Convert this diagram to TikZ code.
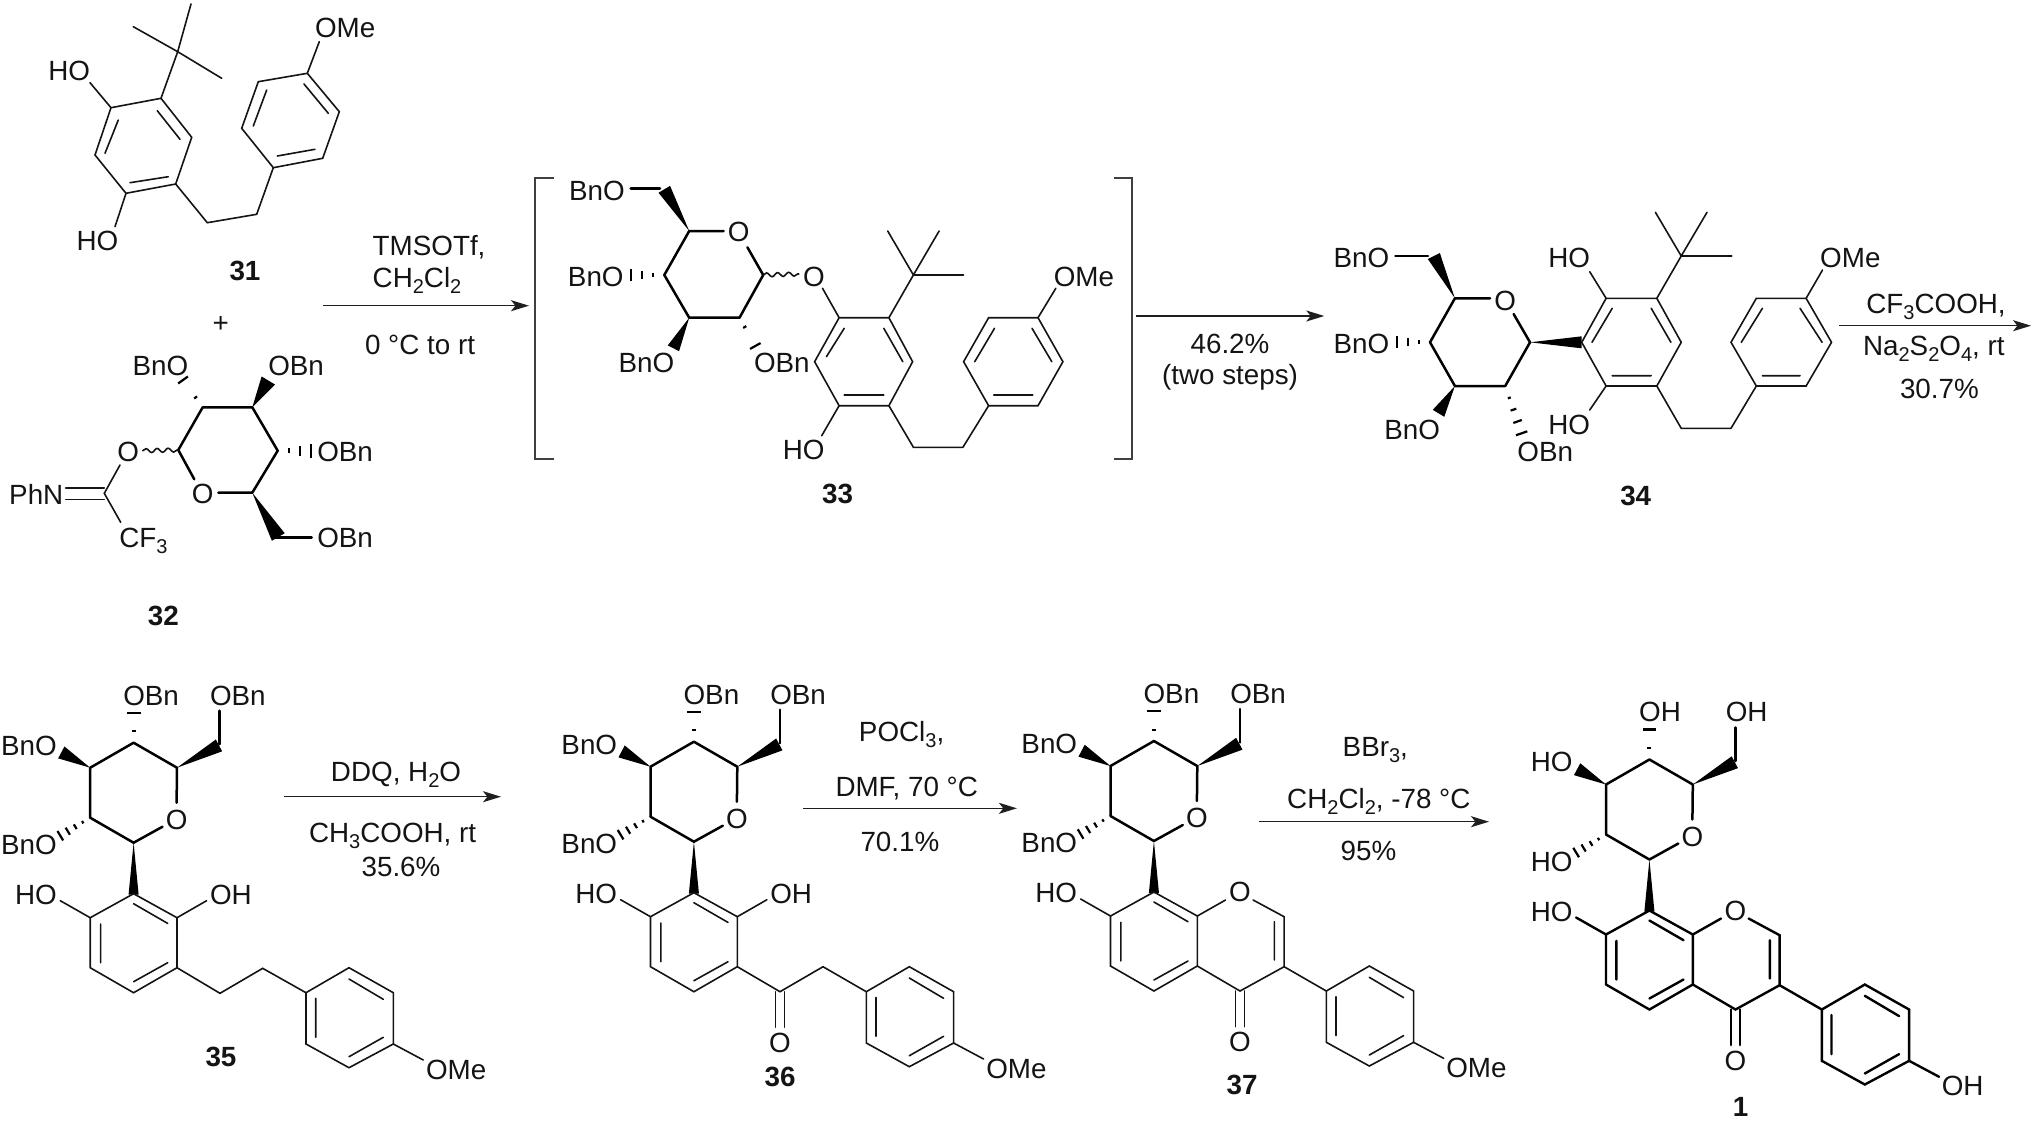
\documentclass[tikz,border=0pt]{standalone}
\usepackage{fontspec}
\setmainfont{Liberation Sans}
\usetikzlibrary{calc,arrows.meta,decorations.pathmorphing}
\newcounter{nd}
\newcommand\chemsize{\fontsize{13.9}{16}\selectfont}
\newcommand\subs[1]{\raisebox{-0.22em}{\fontsize{10}{10}\selectfont #1}}
\newcommand\Tl[2]{\stepcounter{nd}\node[atomtxt,anchor=base west] (t\arabic{nd}) at (#1) {#2};}
\newcommand\Tr[2]{\stepcounter{nd}\node[atomtxt,anchor=base east] (t\arabic{nd}) at (#1) {#2};}
\newcommand\Tc[2]{\stepcounter{nd}\node[atomtxt,anchor=base] (t\arabic{nd}) at (#1) {#2};}
\newcommand\Tb[2]{\stepcounter{nd}\node[atomtxt,anchor=base,font=\chemsize\bfseries] (t\arabic{nd}) at (#1) {#2};}
% one hash stroke: from, to, position, half width (px)
\newcommand\hstroke[4]{\pgfmathsetmacro\hW{#4*0.5}\draw[hs] ($(#1)!#3!(#2)!\hW pt!90:(#1)$) -- ($(#1)!#3!(#2)!\hW pt!-90:(#1)$);}
\newcommand\hashb[4]{\foreach \ii in {1,...,#3}{\pgfmathsetmacro\hT{\ii/#3}\pgfmathsetmacro\hH{#4*\ii/#3}\hstroke{#1}{#2}{\hT}{\hH}}}
\newcommand\wedgeb[3]{\pgfmathsetmacro\wW{#3*0.6}\fill[line join=round] ($(#1)$) -- ($(#2)!\wW pt!90:(#1)$) -- ($(#2)!\wW pt!-90:(#1)$) -- cycle;}
% sugar and phenol ring shared by 35, 36, 37, 1
\newcommand\glyco[2]{%
 \draw[sg] (-43.4,75) -- (-43.4,25) -- (0,0) -- (43.4,25) -- (43,60);
 \draw[sg] (-43.4,75) -- (0,100) -- (28.9,84);
 \draw[sg] (86,1.5) -- (86,-32);
 \Tc{43,86.7}{O}
 \wedgeb{43.4,25}{85.4,2.7}{5.6}
 \wedgeb{-43.4,25}{-72.3,9.7}{5.6}
 \wedgeb{0,100}{0,152}{4.2}
 \hstroke{0,0}{0,-30}{0.38}{2}
 \hstroke{0,0}{0,-30}{1}{6.9}
 \hashb{-43.4,75}{-73.3,93}{4}{5.5}
 \Tl{-10.3,-37.7}{#1}
 \Tl{76.4,-37.7}{#1}
 \Tr{-76.8,12.3}{#2}
 \Tr{-76.8,111.7}{#2}
 \Tr{-76.8,161.7}{HO}
 \draw[ar] (0,151) -- (-43.4,175) -- (-43.4,225) -- (0,250) -- (43.4,225) -- (43.4,175) -- cycle;
 \draw[ar] (0,161) -- (34.1,180.7) (-33,181.3) -- (-33,220) (0,239) -- (34.1,220);
 \draw[ar] (-43.4,175) -- (-73.3,158);
}
% para-substituted ring; #1 is the label
\newcommand\anis[1]{%
 \draw[ar] (172.4,250) -- (215.4,225) -- (259.7,250) -- (259.7,301.3) -- (215.4,325) -- (172.4,301.3) -- cycle;
 \draw[ar] (215.4,236.3) -- (249.7,256.6) (249.7,294.6) -- (215.4,314) (182.1,255.6) -- (182.1,294.6);
 \draw[ar] (259.7,301.3) -- (289.7,317.3);
 \Tl{292.4,336.3}{#1}
}
\newcommand\carbonyl{%
 \draw[ar] (81.5,250) -- (81.5,285.6) (90.7,250) -- (90.7,285.6);
 \Tc{86.1,310.7}{O}
}
\newcommand\chrom{%
 \draw[ar] (43.4,175) -- (71.6,159) (99.2,159) -- (130.2,175.7) -- (130.2,225.7) -- (86.1,250) -- (43.4,225);
 \draw[ar] (120.5,180.7) -- (120.5,219) (130.2,225.7) -- (172.4,250);
 \Tc{86.1,160.7}{O}
 \carbonyl
}
\begin{document}
\begin{tikzpicture}[x=0.5pt,y=-0.5pt,
 atomtxt/.style={inner sep=0pt,outer sep=0pt,font=\chemsize,text=black!92},
 ar/.style={line width=0.8pt,line join=miter,line cap=round,black!92},
 sg/.style={line width=1.25pt,line join=round,line cap=round,black},
 hs/.style={line width=1.1pt,black},
 rxn/.style={line width=0.75pt,black!88,-{Stealth[length=9pt,width=5.5pt,inset=2.2pt]}},
 brk/.style={line width=0.9pt,black!75}]
\useasboundingbox (0,0) rectangle (2032,1120);

% ---------- 31
\draw[ar] (161,98.3) -- (191.7,137.3) -- (175.7,184) -- (126,193.3) -- (95,155) -- (111,107.7) -- cycle;
\draw[ar] (157.3,110.7) -- (180,139.3) (118.3,120) -- (105,153.3) (168.3,176.7) -- (130,182.7);
\draw[ar] (111,107.7) -- (90,82.7) (126,193.3) -- (115,226.7);
\draw[ar] (161,98.3) -- (177.7,51.7) (133.3,26.7) -- (177.7,51.7) (191,4) -- (177.7,51.7) (221.7,78.3) -- (177.7,51.7);
\draw[ar] (175.7,184) -- (207.3,222.7) -- (256.7,214.3) -- (273.3,167.7);
\draw[ar] (273.3,167.7) -- (241.7,128.3) -- (258.3,81.7) -- (307.3,73.3) -- (339.3,111.7) -- (322.7,158.3) -- cycle;
\draw[ar] (277.3,156) -- (315,149.3) (253.3,126) -- (266.7,90) (304,84) -- (328.3,113.3);
\draw[ar] (307.3,73.3) -- (319.3,41.7);
\Tr{90,80.7}{HO}
\Tr{118.3,250}{HO}
\Tl{315,37.3}{OMe}
\Tb{245,280.7}{31}

% ---------- plus and 32
\Tc{220.7,332}{+}
\draw[sg] (178.3,450) -- (202.7,407.3) -- (252.3,407.3) -- (277.7,450.7) -- (252.3,492.7) -- (218.3,492.7);
\draw[sg] (178.3,450) -- (194.3,479.3);
\Tc{202.7,503.3}{O}
\hstroke{202.7,407.3}{183,380}{0.36}{1.8}
\hstroke{202.7,407.3}{183,380}{1}{6}
\Tr{188.3,375}{BnO}
\wedgeb{252.3,407.3}{268.3,380.5}{6.5}
\Tl{268.3,375}{OBn}
\hstroke{277.7,450.7}{310.7,450.7}{0.35}{2.5}
\hstroke{277.7,450.7}{310.7,450.7}{0.67}{5}
\hstroke{277.7,450.7}{310.7,450.7}{1}{7.2}
\Tl{317.3,461}{OBn}
\wedgeb{252.3,492.7}{278.3,537}{6.2}
\draw[sg] (275,537.3) -- (311.7,537.3);
\Tl{317.3,547}{OBn}
\Tc{128.3,461.7}{O}
\draw[ar,decorate,decoration={snake,amplitude=1pt,segment length=5.5pt}] (142.7,450.7) -- (178.3,450);
\draw[ar] (120,465) -- (104.3,493.3) -- (120.7,522.3);
\draw[ar] (65.7,487.7) -- (104.3,487.7) (65.7,499.3) -- (104.3,499.3);
\Tr{63.3,504.3}{PhN}
\Tl{119.3,547.3}{CF\subs{3}}
\Tb{163.3,625}{32}

% ---------- first arrow
\coordinate (a1s) at (323.3,305.7);
\coordinate (a1e) at (529,305.7);
\draw[rxn] (a1s) -- (a1e);
\Tl{372.7,255.7}{TMSOTf,}
\Tl{372.7,287.3}{CH\subs{2}Cl\subs{2}}
\Tc{420,354}{0 °C to rt}

% ---------- brackets
\draw[brk] (553.6,178.3) -- (534.6,178.3) -- (534.6,458.6) -- (553.6,458.6);
\draw[brk] (1114.3,178.3) -- (1132.3,178.3) -- (1132.3,458.6) -- (1114.3,458.6);

% ---------- 33
\draw[sg] (723.6,231) -- (689.2,231) -- (664.3,275) -- (689.2,317.7) -- (739.5,317.7) -- (763.2,275) -- (747.4,247.3);
\draw[sg] (660,188.3) -- (630.7,188.3);
\wedgeb{689.2,231}{664.3,189.3}{5.6}
\wedgeb{689.2,317.7}{673.4,348.3}{5.3}
\hashb{664.3,275}{630.7,275}{3}{6.2}
\hstroke{739.5,317.7}{755.3,346}{0.33}{1.8}
\hstroke{739.5,317.7}{755.3,346}{1}{6}
\Tc{738.7,241.7}{O}
\Tr{624.8,200}{BnO}
\Tr{623.6,286}{BnO}
\Tr{674.2,372.3}{BnO}
\Tl{754,372.3}{OBn}
\draw[ar,decorate,decoration={snake,amplitude=1pt,segment length=5.5pt}] (763.2,275) -- (798.8,274);
\Tc{813.8,286}{O}
\draw[ar] (822.5,288.3) -- (839.1,317.7);
\draw[ar] (839.1,317.7) -- (888.9,317.7) -- (912.6,361.7) -- (888.9,405.7) -- (839.1,405.7) -- (814.6,361.7) -- cycle;
\draw[ar] (844.2,328.3) -- (826.4,356.7) (883.8,328.3) -- (902.8,361.7) (844.2,395) -- (883.8,395);
\draw[ar] (888.9,317.7) -- (913.4,275) (887.7,231) -- (913.4,275) -- (939.1,231) (913.4,275) -- (963.6,275);
\draw[ar] (839.1,405.7) -- (821.7,435.7);
\Tr{824.5,459}{HO}
\draw[ar] (888.9,405.7) -- (913.4,447.3) -- (962.9,447.3) -- (988.6,405.7);
\draw[ar] (988.6,405.7) -- (963.6,361.7) -- (988.6,317.7) -- (1038,317.7) -- (1062.9,361.7) -- (1038,405.7) -- cycle;
\draw[ar] (974.7,361.7) -- (994.5,328.3) (1032,328.3) -- (1051.8,361.7) (993.7,395) -- (1032.9,395);
\draw[ar] (1038,317.7) -- (1055.8,288.3);
\Tl{1053.8,286}{OMe}
\Tb{837.5,503.3}{33}

% ---------- second arrow
\coordinate (a2s) at (1135.7,316);
\coordinate (a2e) at (1324.3,316);
\draw[rxn] (a2s) -- (a2e);
\Tc{1230,353.3}{46.2\%}
\Tc{1230,384.3}{(two steps)}

% ---------- 34
\draw[sg] (1490.1,298.3) -- (1454.9,298.3) -- (1430,342.3) -- (1454.9,386) -- (1505.2,386) -- (1530,342.3) -- (1513.6,314);
\draw[sg] (1428,256) -- (1395.3,256);
\wedgeb{1454.9,298.3}{1433.8,256}{5.6}
\wedgeb{1454.9,386}{1438.5,413.3}{5.6}
\wedgeb{1530,342.3}{1581.7,342.3}{5}
\hashb{1430,342.3}{1397.2,342.3}{3}{6}
\hashb{1505.2,386}{1521.6,433.3}{4}{6}
\Tc{1505.2,310}{O}
\Tr{1389.2,267.3}{BnO}
\Tr{1389.2,353.3}{BnO}
\Tr{1439.9,439.3}{BnO}
\Tl{1517.4,461.7}{OBn}
\draw[ar] (1606.1,298.3) -- (1656.8,298.3) -- (1681.2,342.3) -- (1656.8,386) -- (1606.1,386) -- (1581.7,342.3) -- cycle;
\draw[ar] (1612.2,308.3) -- (1592,342.3) (1651.2,308.3) -- (1670.9,342.3) (1612.2,375.7) -- (1651.2,375.7);
\draw[ar] (1606.1,298.3) -- (1589.7,271.7) (1606.1,386) -- (1589.7,410);
\Tr{1590.1,267.3}{HO}
\Tr{1590.1,434}{HO}
\draw[ar] (1656.8,298.3) -- (1681.2,256) (1655.4,212.3) -- (1681.2,256) -- (1707,212.3) (1681.2,256) -- (1731.9,256);
\draw[ar] (1656.8,386) -- (1681.2,428.3) -- (1731,428.3) -- (1756.3,386);
\draw[ar] (1756.3,386) -- (1731,342.3) -- (1756.3,298.3) -- (1806.1,298.3) -- (1831.5,342.3) -- (1806.1,386) -- cycle;
\draw[ar] (1741.3,342.3) -- (1762.4,308.3) (1800,308.3) -- (1822.1,342.3) (1762.4,375.7) -- (1800,375.7);
\draw[ar] (1806.1,298.3) -- (1822.5,270);
\Tl{1820.2,267.3}{OMe}
\Tb{1635.7,505}{34}

% ---------- third arrow
\coordinate (a3s) at (1839,325.7);
\coordinate (a3e) at (2031,325.7);
\draw[rxn] (a3s) -- (a3e);
\Tc{1936,313.3}{CF\subs{3}COOH,}
\Tc{1933.8,355}{Na\subs{2}S\subs{2}O\subs{4}, rt}
\Tc{1939.4,398}{30.7\%}

% ---------- 35
\begin{scope}[shift={(133.6,742.7)}]
 \glyco{OBn}{BnO}
 \Tl{76.4,161.7}{OH}
 \draw[ar] (43.4,175) -- (73,158);
 \draw[ar] (43.4,225) -- (86.4,250.6) -- (129.1,225.6) -- (172.4,250);
 \anis{OMe}
\end{scope}
\Tb{221,1066.7}{35}
\coordinate (a4s) at (284,796.7);
\coordinate (a4e) at (501,796.7);
\draw[rxn] (a4s) -- (a4e);
\Tc{396,781.7}{DDQ, H\subs{2}O}
\Tc{392.6,842.7}{CH\subs{3}COOH, rt}
\Tc{401,876}{35.6\%}

% ---------- 36
\begin{scope}[shift={(693.9,741.7)}]
 \glyco{OBn}{BnO}
 \Tl{76.4,161.7}{OH}
 \draw[ar] (43.4,175) -- (73,158);
 \draw[ar] (43.4,225) -- (86.1,250) -- (129.1,225) -- (172.4,250);
 \carbonyl
 \anis{OMe}
\end{scope}
\Tb{780,1086}{36}
\coordinate (a5s) at (803.4,808.3);
\coordinate (a5e) at (1016.9,808.3);
\draw[rxn] (a5s) -- (a5e);
\Tc{901.6,741.7}{POCl\subs{3},}
\Tc{906.7,796.7}{DMF, 70 °C}
\Tc{899.9,851.7}{70.1\%}

% ---------- 37
\begin{scope}[shift={(1153.9,741)}]
 \glyco{OBn}{BnO}
 \chrom
 \anis{OMe}
\end{scope}
\Tb{1242,1094}{37}
\coordinate (a6s) at (1259,821.7);
\coordinate (a6e) at (1489,821.7);
\draw[rxn] (a6s) -- (a6e);
\Tc{1375.3,756.7}{BBr\subs{3},}
\Tc{1378.8,808.3}{CH\subs{2}Cl\subs{2}, -78 °C}
\Tc{1368.5,860.7}{95\%}

% ---------- 1
\begin{scope}[shift={(1649.4,759.5)},ar/.style={line width=1.2pt,line join=miter,line cap=round,black}]
 \glyco{OH}{HO}
 \chrom
 \anis{OH}
\end{scope}
\Tb{1740.7,1116.7}{1}
\end{tikzpicture}
\end{document}
